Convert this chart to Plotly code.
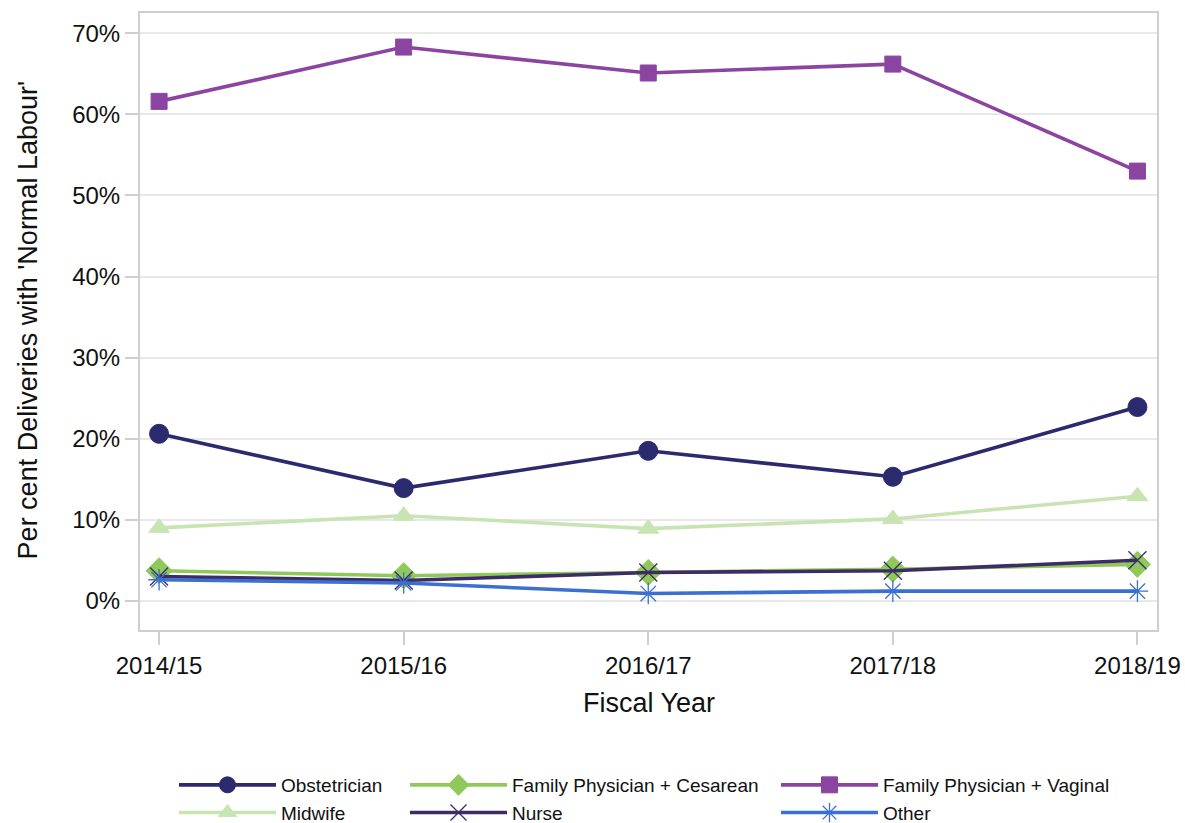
import plotly.graph_objects as go

years = ["2014/15", "2015/16", "2016/17", "2017/18", "2018/19"]

obstetrician = [20.6, 13.9, 18.5, 15.3, 23.9]
fp_cesarean = [3.7, 3.1, 3.5, 3.9, 4.5]
fp_vaginal = [61.6, 68.3, 65.1, 66.2, 53.0]
midwife = [9.0, 10.5, 8.9, 10.1, 12.9]
nurse = [3.0, 2.5, 3.5, 3.7, 5.0]
other = [2.6, 2.2, 0.9, 1.2, 1.2]

# name, values, colour, marker, size, marker line width, legend column
series = [
    ("Obstetrician", obstetrician, "#2C2A6E", "circle", 19, 1, "legend"),
    ("Family Physician + Cesarean", fp_cesarean, "#8FC95A", "diamond", 20, 1, "legend2"),
    ("Family Physician + Vaginal", fp_vaginal, "#8B45A0", "square", 16, 1, "legend3"),
    ("Midwife", midwife, "#C8E4B2", "triangle-up", 18, 1, "legend"),
    ("Nurse", nurse, "#3E2C66", "x-thin-open", 18, 1.3, "legend2"),
    ("Other", other, "#3B6FD2", "asterisk-open", 18, 1.3, "legend3"),
]

fig = go.Figure()
for name, vals, color, sym, size, lw, leg in series:
    fig.add_trace(go.Scatter(
        x=years, y=vals, name=name, mode="lines+markers", legend=leg,
        line=dict(color=color, width=3.6),
        marker=dict(symbol=sym, size=size, color=color, line=dict(color=color, width=lw)),
    ))

# three legend columns, placed like the reference
leg_style = dict(
    orientation="v", xref="container", xanchor="left",
    y=57 / 823, yref="container", yanchor="top",
    itemwidth=97, font=dict(size=19), tracegroupgap=0,
    bgcolor="rgba(0,0,0,0)",
)

fig.update_layout(
    width=1185, height=823,
    margin=dict(l=140, r=28, t=13, b=193, autoexpand=False),
    paper_bgcolor="white", plot_bgcolor="white",
    font=dict(family="Liberation Sans, Arial, sans-serif", color="#111", size=24),
    xaxis=dict(
        range=[-0.078, 4.08], showgrid=False, zeroline=False,
        showline=True, linecolor="#CFCFCF", linewidth=2, mirror=True,
        ticks="outside", ticklen=13, tickcolor="#CFCFCF", tickwidth=2,
    ),
    yaxis=dict(
        range=[-3.6, 72.5], tickvals=[0, 10, 20, 30, 40, 50, 60, 70],
        ticktext=[f"{v}%" for v in range(0, 80, 10)],
        showgrid=True, gridcolor="#E8E8E8", gridwidth=2, zeroline=False,
        showline=True, linecolor="#CFCFCF", linewidth=2, mirror=True,
        ticks="outside", ticklen=13, tickcolor="#CFCFCF", tickwidth=2,
    ),
    legend=dict(x=174 / 1185, **leg_style),
    legend2=dict(x=405 / 1185, **leg_style),
    legend3=dict(x=776 / 1185, **leg_style),
)

# axis titles as annotations (multi-legend layout misplaces standard titles)
fig.add_annotation(text="Fiscal Year", xref="paper", yref="paper", x=0.5, y=-0.118,
                   xanchor="center", yanchor="middle", showarrow=False, font=dict(size=27))
fig.add_annotation(text="Per cent Deliveries with 'Normal Labour'", xref="paper", yref="paper",
                   x=-0.110, y=0.502, xanchor="center", yanchor="middle", textangle=-90,
                   showarrow=False, font=dict(size=27))

fig.write_html("out.html", config={"displayModeBar": False},
               post_script="document.body.style.margin='0';")
